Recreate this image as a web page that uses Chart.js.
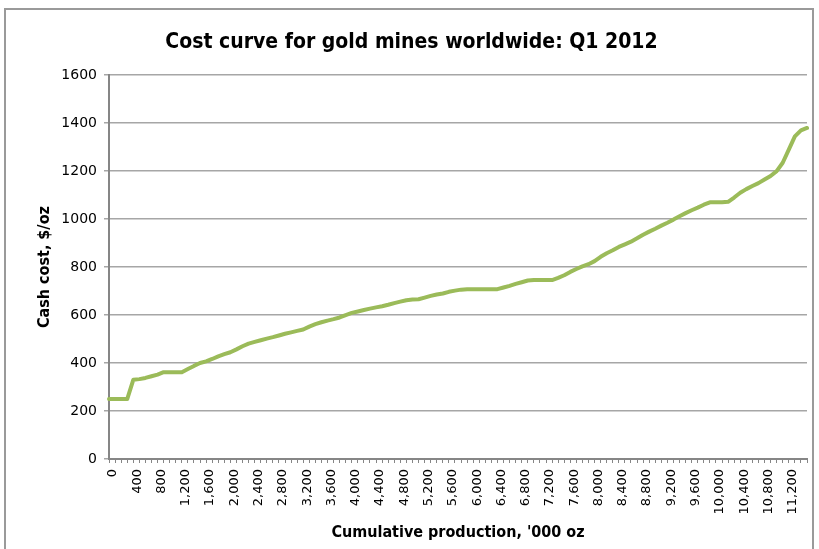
<!DOCTYPE html>
<html>
<head>
<meta charset="utf-8">
<script src="https://cdn.jsdelivr.net/npm/chart.js@4"></script>
<style>
  html, body { margin: 0; padding: 0; background: #fff; }
  #wrap { position: relative; width: 819px; height: 549px; overflow: hidden; }
  #frame { position: absolute; left: 4px; top: 8px; width: 810px; height: 620px; border: 2px solid #9a9a9a; box-sizing: border-box; }
  canvas { position: absolute; left: 0; top: 0; }
</style>
</head>
<body>
<div id="wrap">
  <div id="frame"></div>
  <canvas id="c" width="819" height="549"></canvas>
</div>
<script>
// Cumulative production, '000 oz (category axis)
const production = [
  0,100,200,300,400,500,600,700,800,900,1000,1100,1200,1300,1400,1500,1600,1700,1800,1900,
  2000,2100,2200,2300,2400,2500,2600,2700,2800,2900,3000,3100,3200,3300,3400,3500,3600,3700,3800,3900,
  4000,4100,4200,4300,4400,4500,4600,4700,4800,4900,5000,5100,5200,5300,5400,5500,5600,5700,5800,5900,
  6000,6100,6200,6300,6400,6500,6600,6700,6800,6900,7000,7100,7200,7300,7400,7500,7600,7700,7800,7900,
  8000,8100,8200,8300,8400,8500,8600,8700,8800,8900,9000,9100,9200,9300,9400,9500,9600,9700,9800,9900,
  10000,10100,10200,10300,10400,10500,10600,10700,10800,10900,11000,11100,11200,11300,11400,11500
];
// Cash cost, $/oz
const cashCost = [
  250,250,250,250,330,333,338,345,352,362,362,362,362,375,388,400,407,417,428,437,
  445,457,470,481,488,495,502,508,515,522,528,534,540,552,562,570,577,583,590,600,
  609,615,621,627,632,637,643,650,656,662,665,666,673,680,686,690,697,702,706,708,
  708,708,708,708,708,715,722,730,737,744,746,746,746,746,755,766,780,792,803,812,
  825,843,858,870,884,895,906,920,935,948,960,973,985,998,1012,1025,1037,1048,1060,1070,
  1070,1070,1072,1090,1110,1125,1138,1150,1165,1180,1200,1235,1290,1345,1370,1380
];
// Tick labels shown on the category axis
const xTickLabels = ['0','400','800','1,200','1,600','2,000','2,400','2,800','3,200','3,600','4,000','4,400',
  '4,800','5,200','5,600','6,000','6,400','6,800','7,200','7,600','8,000','8,400','8,800','9,200','9,600',
  '10,000','10,400','10,800','11,200'];
const yTicks = [0,200,400,600,800,1000,1200,1400,1600];

const fmt = v => v.toLocaleString('en-US');

new Chart(document.getElementById('c'), {
  type: 'line',
  data: {
    labels: production.map(fmt),
    datasets: [{
      data: cashCost,
      borderColor: '#9BBB59',
      borderWidth: 4,
      pointRadius: 0,
      tension: 0,
      borderJoinStyle: 'round',
      borderCapStyle: 'round',
      fill: false
    }]
  },
  options: {
    responsive: false,
    animation: false,
    layout: { padding: { left: 16, right: 12, top: 0, bottom: 0 } },
    plugins: {
      legend: { display: false },
      tooltip: { enabled: false },
      title: {
        display: true,
        text: 'Cost curve for gold mines worldwide: Q1 2012',
        color: '#000',
        font: { family: 'DejaVu Sans Condensed', size: 21, weight: 'bold', lineHeight: 1.2 },
        padding: { top: 30, bottom: 20 }
      }
    },
    scales: {
      x: {
        type: 'category',
        afterFit: s => { s.height = 90; s.paddingLeft = 0; s.paddingRight = 0; },
        border: { display: true, color: '#868686', width: 2 },
        grid: { display: true, drawOnChartArea: false, drawTicks: true, tickLength: 4, color: '#868686', lineWidth: 1 },
        ticks: {
          autoSkip: false,
          maxRotation: 90,
          minRotation: 90,
          padding: 6,
          labelOffset: 4,
          color: '#000',
          font: { family: 'DejaVu Sans', size: 13 },
          callback: function(val) {
            const lab = this.getLabelForValue(val);
            return xTickLabels.includes(lab) ? lab : '';
          }
        },
        title: {
          display: true,
          text: "Cumulative production, '000 oz",
          color: '#000',
          font: { family: 'DejaVu Sans Condensed', size: 16, weight: 'bold', lineHeight: 1.2 },
          padding: { top: 0, bottom: 7 }
        }
      },
      y: {
        min: 0,
        max: 1600,
        afterFit: s => { s.width = 93; s.paddingTop = 0; s.paddingBottom = 0; },
        afterBuildTicks: s => { s.ticks = yTicks.map(v => ({ value: v })); },
        border: { display: true, color: '#868686', width: 2 },
        grid: { color: '#a6a6a6', lineWidth: 1.5, tickLength: 5, drawTicks: true },
        ticks: {
          padding: 7,
          color: '#000',
          font: { family: 'DejaVu Sans', size: 14 },
          callback: v => String(v)
        },
        title: {
          display: true,
          text: 'Cash cost, $/oz',
          color: '#000',
          font: { family: 'DejaVu Sans Condensed', size: 16, weight: 'bold', lineHeight: 1.2 },
          padding: { top: 19, bottom: 0 }
        }
      }
    }
  }
});
</script>
</body>
</html>
